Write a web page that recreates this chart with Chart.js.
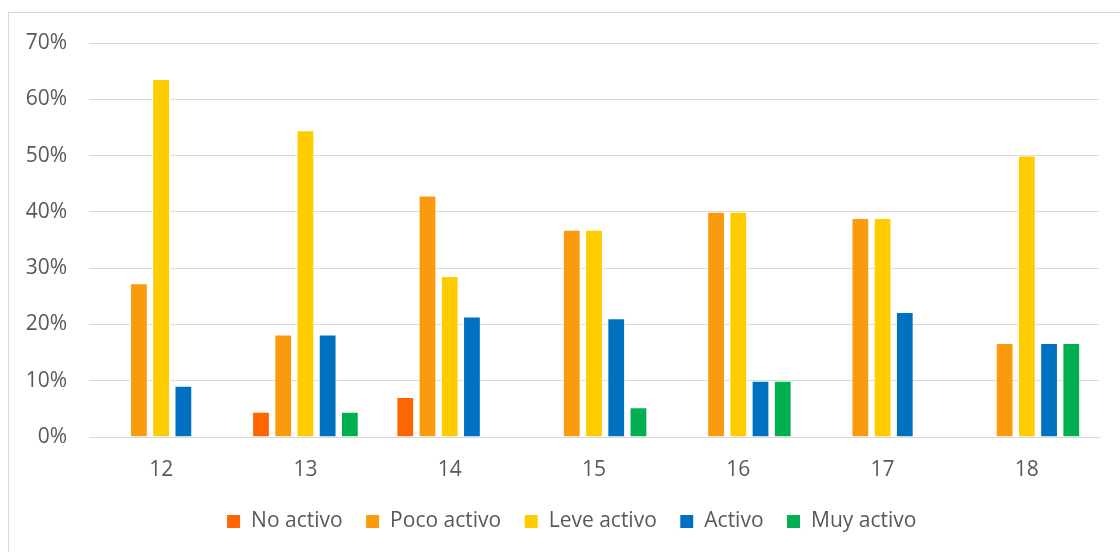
<!DOCTYPE html>
<html>
<head>
<meta charset="utf-8">
<script src="https://cdn.jsdelivr.net/npm/chart.js@4/dist/chart.umd.min.js"></script>
<style>
  html, body { margin: 0; padding: 0; background: #fff; }
  #wrap { position: relative; width: 1120px; height: 552px; overflow: hidden; }
  #frame { position: absolute; left: 8px; top: 12px; width: 1200px; height: 600px;
           border-left: 1px solid #d9d9d9; border-top: 1px solid #d9d9d9; box-sizing: border-box; }
  canvas { position: absolute; left: 0; top: 0; }
</style>
</head>
<body>
<div id="wrap">
  <div id="frame"></div>
  <canvas id="c" width="1120" height="552"></canvas>
</div>
<script>
// Edad (años)
const edades = ['12', '13', '14', '15', '16', '17', '18'];

// Porcentaje de alumnos por nivel de actividad física
const noActivo    = [0, 4.5, 7.1, 0, 0, 0, 0];
const pocoActivo  = [27.3, 18.2, 42.9, 36.8, 40.0, 38.9, 16.7];
const leveActivo  = [63.6, 54.5, 28.6, 36.8, 40.0, 38.9, 50.0];
const activo      = [9.1, 18.2, 21.4, 21.1, 10.0, 22.2, 16.7];
const muyActivo   = [0, 4.5, 0, 5.3, 10.0, 0, 16.7];

const niveles = ['No activo', 'Poco activo', 'Leve activo', 'Activo', 'Muy activo'];
const colores = ['#FF6600', '#F99B0C', '#FFCC00', '#0070C0', '#00B050'];
const series  = [noActivo, pocoActivo, leveActivo, activo, muyActivo];

const fuente = '"Open Sans", "Liberation Sans", sans-serif';
const gris = '#595959';

// Centre the legend on the whole framed area rather than on the plot box
const legendShift = {
  id: 'legendShift',
  afterLayout(chart) {
    const lg = chart.legend;
    if (lg) { lg.left += 22; lg.right += 22; }
  }
};

new Chart(document.getElementById('c'), {
  type: 'bar',
  data: {
    labels: edades,
    datasets: series.map((vals, i) => ({
      label: niveles[i],
      data: vals,
      backgroundColor: colores[i],
      borderColor: '#ffffff',
      borderWidth: 1,
      borderSkipped: 'bottom',
      categoryPercentage: 0.77,
      barPercentage: 0.8
    }))
  },
  plugins: [legendShift],
  options: {
    responsive: false,
    animation: false,
    layout: { padding: { top: 43, right: 21, left: 0, bottom: 10 } },
    plugins: {
      tooltip: { enabled: false },
      legend: {
        position: 'bottom',
        labels: {
          color: gris,
          font: { family: fuente, size: 21 },
          boxWidth: 14,
          boxHeight: 14,
          padding: 23
        }
      }
    },
    scales: {
      x: {
        grid: { display: false },
        border: { color: '#d9d9d9', width: 1 },
        ticks: { color: gris, font: { family: fuente, size: 21 }, padding: 12 },
        afterFit: s => { s.height = 51; }
      },
      y: {
        min: 0,
        max: 70,
        ticks: {
          stepSize: 10,
          color: gris,
          font: { family: fuente, size: 21 },
          padding: 22,
          callback: v => v + '%'
        },
        grid: { color: '#d9d9d9', lineWidth: 1, drawTicks: false },
        border: { display: false },
        afterFit: s => { s.width = 89; }
      }
    }
  }
});
</script>
</body>
</html>
